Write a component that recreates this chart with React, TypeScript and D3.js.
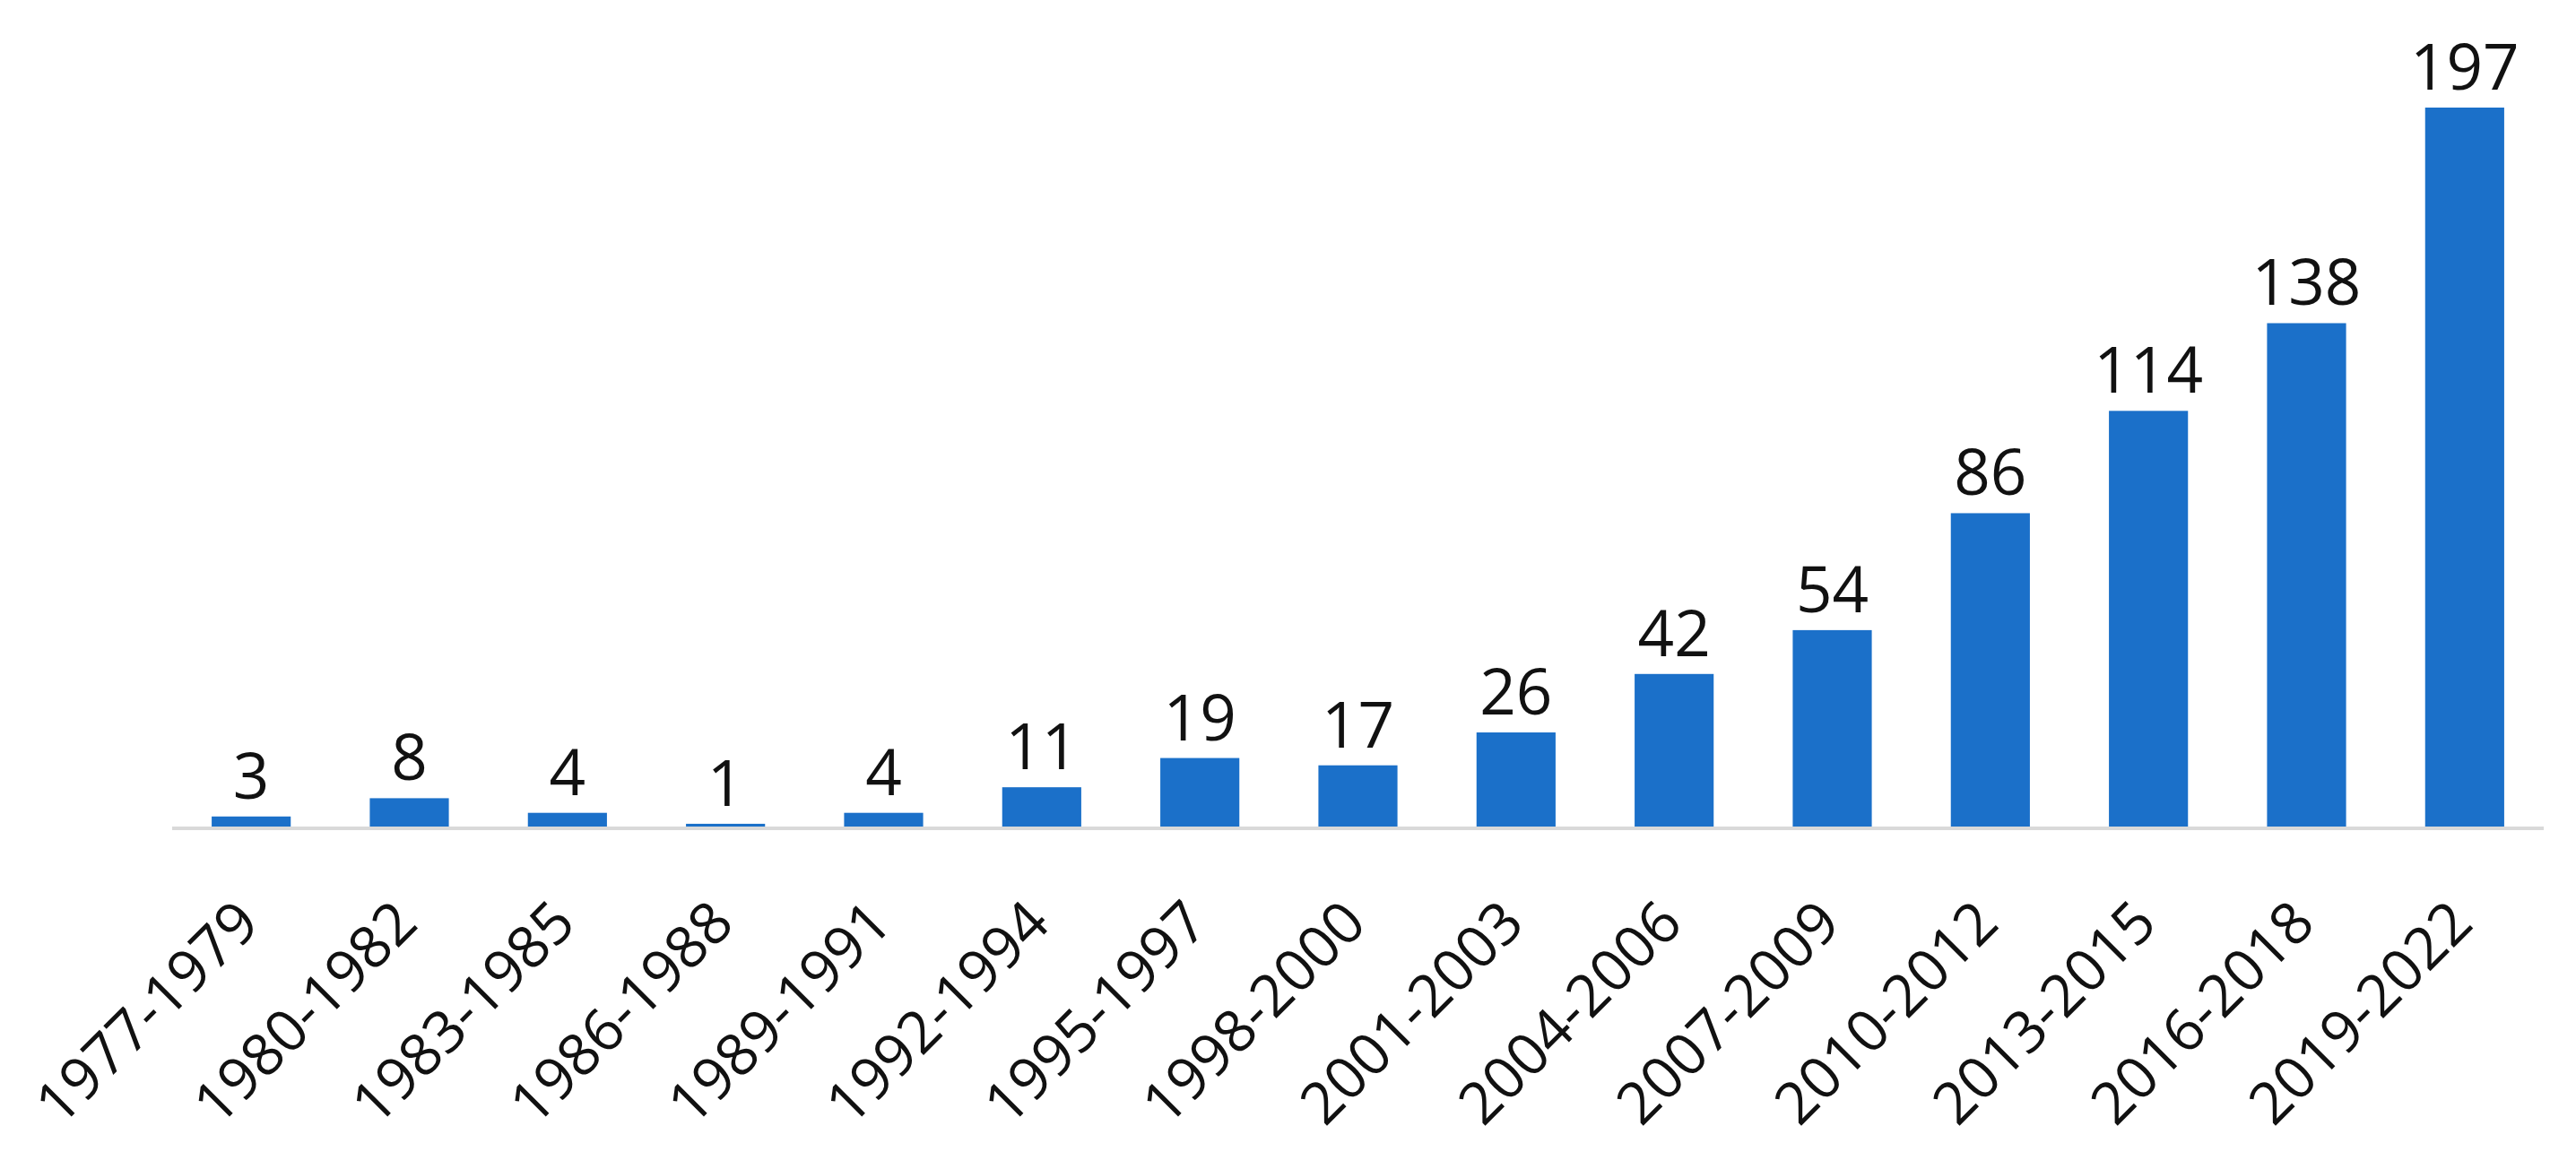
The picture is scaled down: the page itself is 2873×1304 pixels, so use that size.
import React from "react";
import * as d3 from "d3";

const categories = [
  "1977-1979", "1980-1982", "1983-1985", "1986-1988", "1989-1991",
  "1992-1994", "1995-1997", "1998-2000", "2001-2003", "2004-2006",
  "2007-2009", "2010-2012", "2013-2015", "2016-2018", "2019-2022",
];
const values = [3, 8, 4, 1, 4, 11, 19, 17, 26, 42, 54, 86, 114, 138, 197];

const W = 2873;
const H = 1304;
const FONT = "'Open Sans', sans-serif";

export default function App() {
  const x = d3.scaleBand<string>().domain(categories).range([192, 2837]).paddingInner(0.5).paddingOuter(0.25);
  const y = d3.scaleLinear().domain([0, 197]).range([923, 120]);
  const bw = x.bandwidth();
  return (
    <svg width={W} height={H} style={{ position: "fixed", left: 0, top: 0, background: "#fff" }}>
      <rect x={0} y={0} width={W} height={H} fill="#fff" />
      {categories.map((c, i) => {
        const v = values[i];
        const x0 = x(c)!;
        return (
          <rect key={c} x={x0} y={y(v)} width={bw} height={y(0) - y(v)} fill="#1b70c9" />
        );
      })}
      <line x1={x.range()[0]} x2={x.range()[1]} y1={y(0) + 1} y2={y(0) + 1} stroke="#d9d9d9" strokeWidth={4} />
      {categories.map((c, i) => {
        const cx = x(c)! + bw / 2;
        return (
          <text key={"v" + c} x={cx} y={y(values[i]) - 20} textAnchor="middle" fontFamily={FONT} fontSize={71} fill="#111">
            {values[i]}
          </text>
        );
      })}
      {categories.map((c) => {
        const cx = x(c)! + bw / 2;
        return (
          <text key={"t" + c} transform={`translate(${cx + 12},${y(0) + 110}) rotate(-45)`} textAnchor="end" fontFamily={FONT} fontSize={65} fill="#111">
            {c}
          </text>
        );
      })}
    </svg>
  );
}
